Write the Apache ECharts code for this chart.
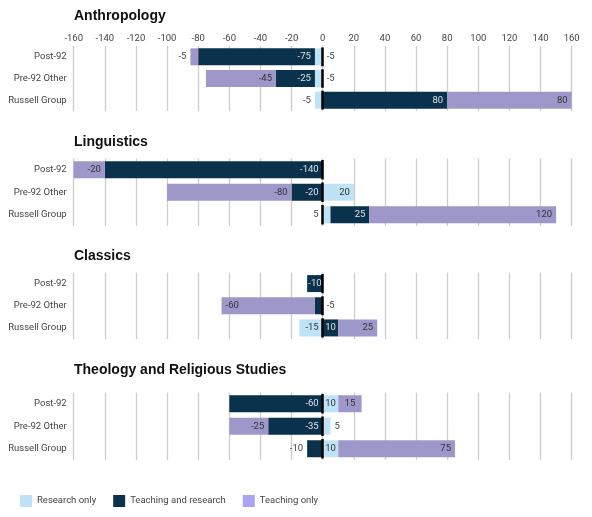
<!DOCTYPE html>
<html>
<head>
<meta charset="utf-8">
<script src="https://cdn.jsdelivr.net/npm/echarts@6/dist/echarts.min.js"></script>
<style>
  html, body { margin: 0; padding: 0; background: #fff; }
  #container { width: 592px; height: 517px; }
</style>
</head>
<body>
<div id="container"></div>
<script>
var categories = ["Post-92", "Pre-92 Other", "Russell Group"];
var subjects = ["Anthropology", "Linguistics", "Classics", "Theology and Religious Studies"];
var seriesNames = ["Research only", "Teaching and research", "Teaching only"];

// values per subject, in category order
var anthropologyResearch = [-5, -5, -5];
var anthropologyTeachRes = [-75, -25, 80];
var anthropologyTeaching = [-5, -45, 80];

var linguisticsResearch = [0, 20, 5];
var linguisticsTeachRes = [-140, -20, 25];
var linguisticsTeaching = [-20, -80, 120];

var classicsResearch = [0, 0, -15];
var classicsTeachRes = [-10, -5, 10];
var classicsTeaching = [0, -60, 25];

var theologyResearch = [10, 5, 10];
var theologyTeachRes = [-60, -35, -10];
var theologyTeaching = [15, -25, 75];

var panelData = [
  [anthropologyResearch, anthropologyTeachRes, anthropologyTeaching],
  [linguisticsResearch, linguisticsTeachRes, linguisticsTeaching],
  [classicsResearch, classicsTeachRes, classicsTeaching],
  [theologyResearch, theologyTeachRes, theologyTeaching]
];

var colors = ["#bfe3f6", "#0a324d", "#9d97ca"];
var legendColors = ["#bfe3f6", "#0a324d", "#aba4f3"];
var font = "Roboto";
var fs = 9.5;

// layout of each panel
var panels = [
  { top: 46, height: 65, titleTop: 9 },
  { top: 158.5, height: 67.5, titleTop: 135.5 },
  { top: 272.5, height: 66.5, titleTop: 249 },
  { top: 392.5, height: 67.5, titleTop: 363.5 }
];

// label placement where it is not insideRight; key = series index + row
var labelPlace = [
  { "0-0": "right", "0-1": "right", "0-2": "left", "2-0": "left" },
  { "0-2": "left" },
  { "1-0": "inside", "1-1": "right", "2-1": "insideLeft", "1-2": "inside" },
  { "0-0": "inside", "2-0": "inside", "0-1": "right", "1-2": "left", "0-2": "inside" }
];

var grids = [], xAxes = [], yAxes = [], series = [], titles = [];

panels.forEach(function (p, i) {
  grids.push({ left: 73.7, right: 20.3, top: p.top, height: p.height });
  titles.push({
    text: subjects[i],
    left: 74,
    top: p.titleTop,
    padding: 0,
    textStyle: { fontFamily: "Liberation Sans", fontWeight: "bold", fontSize: 14, color: "#111" }
  });
  xAxes.push({
    type: "value",
    gridIndex: i,
    min: -160,
    max: 160,
    interval: 20,
    position: "top",
    axisLine: { show: false },
    axisTick: { show: false },
    axisLabel: { show: i === 0, margin: 2, fontFamily: font, fontSize: fs, color: "#444" },
    splitLine: { show: true, lineStyle: { color: "#cccccc", width: 1.3 } }
  });
  yAxes.push({
    type: "category",
    gridIndex: i,
    inverse: true,
    data: categories,
    axisLine: { show: false },
    axisTick: { show: false },
    axisLabel: { margin: 7, fontFamily: font, fontSize: fs, color: "#444" }
  });

  var band = p.height / 3;
  panelData[i].forEach(function (vals, s) {
    var s1 = {
      name: seriesNames[s],
      type: "bar",
      stack: "panel" + i,
      xAxisIndex: i,
      yAxisIndex: i,
      barWidth: 17,
      itemStyle: { color: colors[s] },
      data: vals.map(function (v, r) {
        var pos = labelPlace[i][s + "-" + r] || "insideRight";
        var inside = pos.indexOf("inside") === 0;
        return {
          value: v,
          label: {
            show: v !== 0,
            position: pos,
            distance: 4,
            fontFamily: font,
            fontSize: fs,
            color: inside ? (s === 1 ? "#dde2e8" : "#333") : "#444"
          }
        };
      })
    };
    if (s === 2) {
      s1.markLine = {
        silent: true,
        symbol: "none",
        label: { show: false },
        lineStyle: { color: "#000", width: 2.5, type: [band - 3, 3], dashOffset: -1.5 },
        data: [{ xAxis: 0 }]
      };
    }
    series.push(s1);
  });
});

var myChart = echarts.init(document.getElementById("container"), null, { renderer: "canvas" });

var option = {
  animation: false,
  title: titles,
  legend: {
    left: 15,
    top: 490,
    icon: "rect",
    itemWidth: 12,
    itemHeight: 12,
    itemGap: 17,
    textStyle: { fontFamily: font, fontSize: fs, color: "#444" },
    data: seriesNames.map(function (n, k) {
      return { name: n, itemStyle: { color: legendColors[k] } };
    })
  },
  grid: grids,
  xAxis: xAxes,
  yAxis: yAxes,
  series: series
};

myChart.setOption(option);
window.addEventListener("resize", myChart.resize);
</script>
</body>
</html>
